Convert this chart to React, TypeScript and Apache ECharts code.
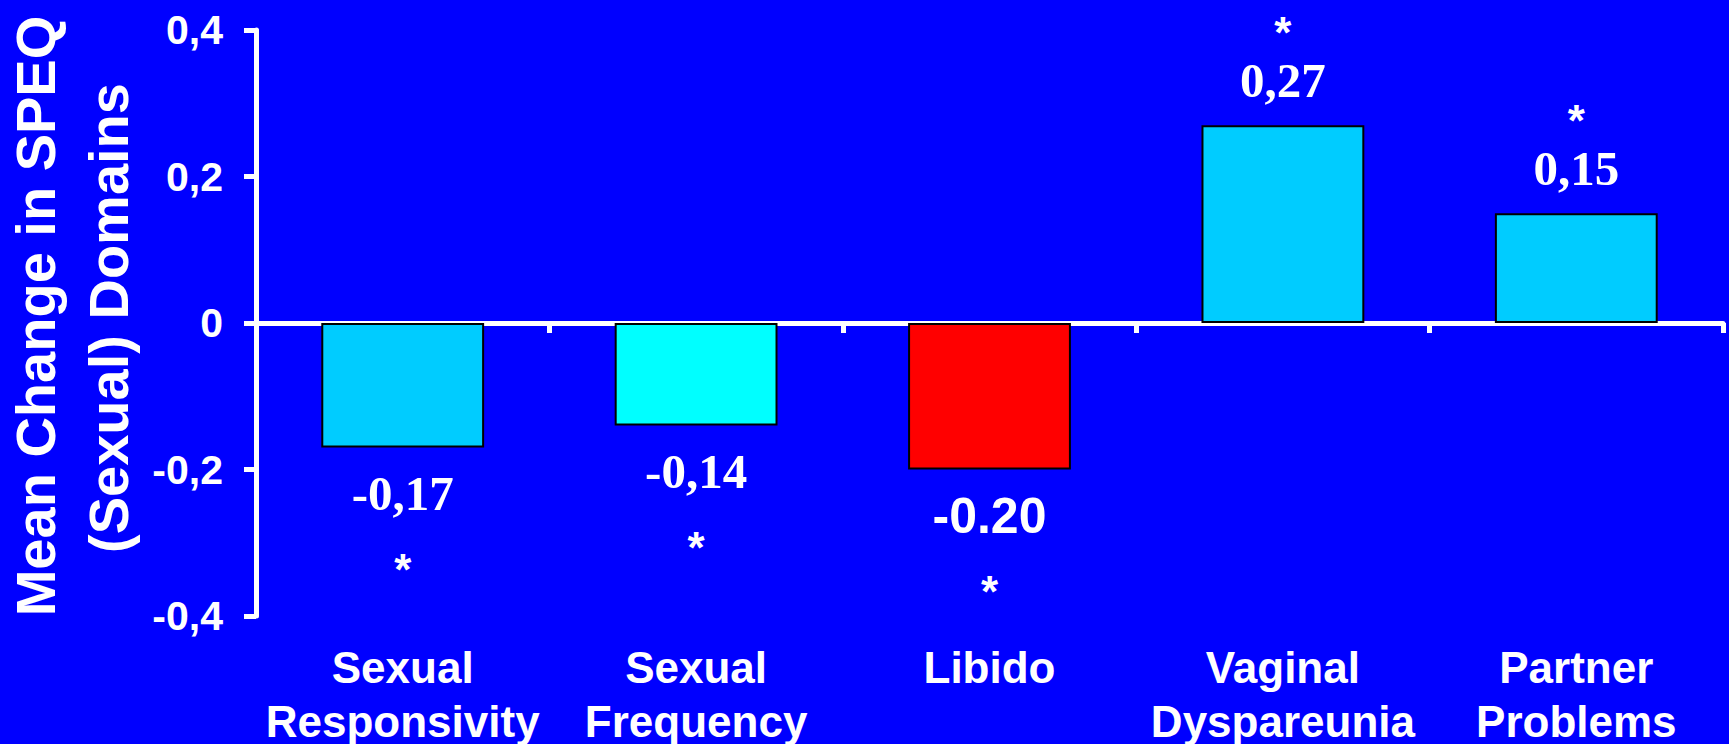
import React, { useEffect, useRef } from 'react';
import * as echarts from 'echarts';

const categories = ['Sexual\nResponsivity', 'Sexual\nFrequency', 'Libido', 'Vaginal\nDyspareunia', 'Partner\nProblems'];
const values = [-0.17, -0.14, -0.2, 0.27, 0.15];
const valueLabels = ['-0,17', '-0,14', '-0.20', '0,27', '0,15'];
const labelStyles = ['serif', 'serif', 'sans', 'serif', 'serif'];
const significance = ['*', '*', '*', '*', '*'];
const barColors = ['#00CCFF', '#00FFFF', '#FF0000', '#00CCFF', '#00CCFF'];
const yTicks = [-0.4, -0.2, 0, 0.2, 0.4];
const yTickLabels = ['-0,4', '-0,2', '0', '0,2', '0,4'];
const yTitleLines = ['Mean Change in SPEQ', '(Sexual) Domains'];

const SANS = '"Liberation Sans", Arial, Helvetica, sans-serif';
const SERIF = '"Liberation Serif", "Times New Roman", serif';

export default function App() {
  const ref = useRef<HTMLDivElement>(null);

  useEffect(() => {
    document.body.style.margin = '0';
    document.body.style.background = '#0000FF';
    if (!ref.current) return;
    const chart = echarts.init(ref.current, null, { renderer: 'svg' });

    const data = values.map((v, i) => {
      const key = labelStyles[i];
      const pos = v >= 0;
      return {
        value: v,
        itemStyle: { color: barColors[i], borderColor: '#000000', borderWidth: 2 },
        label: {
          show: true,
          position: pos ? 'top' : 'bottom',
          distance: pos ? 19 : 20,
          formatter: pos
            ? `{st|${significance[i]}}\n{${key}|${valueLabels[i]}}`
            : `{${key}|${valueLabels[i]}}\n{sb|${significance[i]}}`,
        },
      };
    });

    chart.setOption({
      animation: false,
      backgroundColor: '#0000FF',
      grid: { left: 256, right: 6, top: 30, bottom: 128, containLabel: false, outerBoundsMode: 'none' },
      xAxis: [
        {
          type: 'category',
          data: categories,
          position: 'bottom',
          axisLine: { show: true, onZero: true, lineStyle: { color: '#FFFFFF', width: 5 } },
          axisTick: { show: true, length: 10, lineStyle: { color: '#FFFFFF', width: 5 } },
          axisLabel: { show: false },
          splitLine: { show: false },
        },
        {
          type: 'category',
          data: categories,
          position: 'bottom',
          axisLine: { show: false, onZero: false },
          axisTick: { show: false },
          axisLabel: {
            show: true,
            color: '#FFFFFF',
            fontFamily: SANS,
            fontWeight: 'bold',
            fontSize: 44,
            lineHeight: 54,
            margin: 24,
            interval: 0,
          },
          splitLine: { show: false },
        },
      ],
      yAxis: {
        type: 'value',
        min: -0.4,
        max: 0.4,
        interval: 0.2,
        axisLine: { show: true, lineStyle: { color: '#FFFFFF', width: 5 } },
        axisTick: { show: true, inside: false, length: 12, lineStyle: { color: '#FFFFFF', width: 5 } },
        splitLine: { show: false },
        axisLabel: {
          color: '#FFFFFF',
          fontFamily: SANS,
          fontWeight: 'bold',
          fontSize: 41,
          margin: 33,
          formatter: (v: number) => {
            const idx = yTicks.findIndex((t) => Math.abs(t - v) < 1e-9);
            return idx >= 0 ? yTickLabels[idx] : '';
          },
        },
      },
      series: [
        {
          type: 'bar',
          xAxisIndex: 0,
          barWidth: '55.5%',
          data,
          label: {
            color: '#FFFFFF',
            rich: {
              serif: { fontFamily: SERIF, fontWeight: 'bold', fontSize: 49, lineHeight: 52, color: '#FFFFFF' },
              sans: { fontFamily: SANS, fontWeight: 'bold', fontSize: 50, lineHeight: 52, color: '#FFFFFF' },
              st: { fontFamily: SANS, fontWeight: 'bold', fontSize: 44, lineHeight: 44, color: '#FFFFFF' },
              sb: { fontFamily: SANS, fontWeight: 'bold', fontSize: 44, lineHeight: 100, color: '#FFFFFF' },
            },
          },
        },
      ],
      graphic: [
        {
          type: 'text',
          x: 35,
          y: 316,
          rotation: Math.PI / 2,
          style: {
            text: yTitleLines[0],
            fontFamily: SANS,
            fontWeight: 'bold',
            fontSize: 56,
            fill: '#FFFFFF',
            align: 'center',
            verticalAlign: 'middle',
          },
        },
        {
          type: 'text',
          x: 108,
          y: 318,
          rotation: Math.PI / 2,
          style: {
            text: yTitleLines[1],
            fontFamily: SANS,
            fontWeight: 'bold',
            fontSize: 56,
            fill: '#FFFFFF',
            align: 'center',
            verticalAlign: 'middle',
          },
        },
      ],
    });

    return () => chart.dispose();
  }, []);

  return <div ref={ref} style={{ width: 1729, height: 744 }} />;
}
